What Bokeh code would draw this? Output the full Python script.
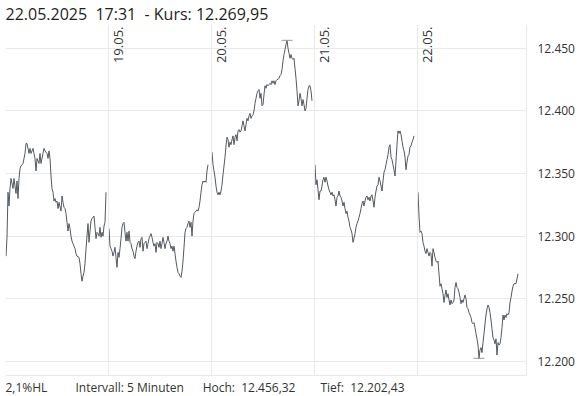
import numpy as np
from bokeh.plotting import figure
from bokeh.models import Span, Title, FixedTicker, Range1d
from bokeh.core.properties import value
from bokeh.embed import file_html
from bokeh.resources import INLINE

# ---------------- data ----------------
day_labels = ["16.05.", "19.05.", "20.05.", "21.05.", "22.05."]
bars_per_day = 103          # 5-minute bars per trading day slot
last_date = "22.05.2025"
last_time = "17:31"
interval_text = "Intervall: 5 Minuten"

y_ticks = [12200, 12250, 12300, 12350, 12400, 12450]
y_tick_labels = ["12.200", "12.250", "12.300", "12.350", "12.400", "12.450"]

# 16.05. (bar index within the day, value)
d0_bar = [0, 1, 2, 3, 4, 5, 7, 8, 10, 11, 12, 13, 14, 15, 17, 19, 20, 21, 23, 24, 25, 27, 28, 29,
          30, 31, 33, 34, 35, 37, 38, 39, 41, 42, 43, 44, 45, 46, 47, 48, 49, 50, 51, 52, 53, 55,
          56, 57, 58, 59, 60, 61, 62, 63, 64, 65, 66, 67, 69, 70, 71, 73, 74, 75, 76, 77, 78, 79,
          80, 81, 82, 83, 84, 85, 86, 88, 89, 90, 91, 92, 93, 94, 95, 96, 97, 98, 99, 100]
d0_val = [12284, 12299, 12335, 12324, 12338, 12346, 12338, 12346, 12334, 12344, 12330, 12346,
          12354, 12356, 12358, 12366, 12374, 12374, 12366, 12370, 12366, 12370, 12366, 12362,
          12352, 12362, 12358, 12366, 12358, 12366, 12370, 12368, 12366, 12362, 12368, 12362,
          12348, 12338, 12335, 12328, 12330, 12327, 12328, 12322, 12327, 12320, 12332, 12327,
          12323, 12322, 12318, 12311, 12304, 12310, 12306, 12300, 12296, 12294, 12290, 12286,
          12284, 12283, 12278, 12270, 12264, 12268, 12271, 12278, 12290, 12300, 12310, 12295,
          12304, 12312, 12314, 12316, 12307, 12298, 12303, 12302, 12300, 12307, 12299, 12303,
          12300, 12308, 12311, 12335]

# 19.05.
d1_val = [12306, 12292, 12290, 12288, 12284, 12287, 12291, 12283, 12275, 12287, 12283, 12290,
          12298, 12307, 12310, 12311, 12303, 12296, 12303, 12296, 12304, 12295, 12294, 12290,
          12288, 12284, 12282, 12288, 12292, 12295, 12296, 12291, 12298, 12299, 12288, 12294,
          12295, 12296, 12290, 12294, 12298, 12300, 12302, 12299, 12295, 12292, 12294, 12287,
          12295, 12294, 12291, 12296, 12290, 12294, 12299, 12295, 12290, 12294, 12296, 12300,
          12296, 12294, 12290, 12292, 12288, 12292, 12286, 12280, 12275, 12271, 12270, 12268,
          12267, 12272, 12280, 12291, 12303, 12306, 12307, 12310, 12312, 12307, 12311, 12300,
          12312, 12318, 12319, 12320, 12321, 12320, 12323, 12328, 12335, 12341, 12344, 12343,
          12344, 12343, 12352, 12357]

# 20.05.
d2_val = [12367, 12357, 12352, 12347, 12340, 12335, 12333, 12335, 12333, 12336, 12341, 12349,
          12356, 12363, 12372, 12379, 12377, 12371, 12375, 12373, 12377, 12380, 12373, 12379,
          12381, 12376, 12384, 12385, 12383, 12384, 12388, 12392, 12388, 12384, 12389, 12394,
          12392, 12396, 12398, 12394, 12396, 12397, 12400, 12406, 12410, 12414, 12416, 12417,
          12410, 12414, 12404, 12405, 12413, 12420, 12418, 12421, 12420, 12421, 12422, 12421,
          12424, 12422, 12424, 12421, 12424, 12425, 12425, 12426, 12428, 12429, 12433, 12440,
          12445, 12449, 12453, 12456.32, 12450, 12446, 12442, 12445, 12442, 12441, 12442, 12434,
          12426, 12416, 12404, 12408, 12414, 12410, 12404, 12409, 12405, 12400, 12402, 12410,
          12417, 12420, 12420, 12416, 12408]

# 21.05.
d3_val = [12357, 12341, 12345, 12337, 12329, 12336, 12336, 12340, 12345, 12347, 12343, 12347,
          12344, 12340, 12337, 12335, 12333, 12335, 12332, 12333, 12329, 12324, 12331, 12332,
          12336, 12332, 12331, 12328, 12324, 12327, 12322, 12318, 12320, 12315, 12312, 12307,
          12305, 12302, 12295, 12298, 12302, 12307, 12310, 12312, 12315, 12318, 12322, 12326,
          12328, 12324, 12328, 12331, 12332, 12329, 12331, 12328, 12332, 12333, 12328, 12323,
          12331, 12336, 12340, 12341, 12347, 12344, 12340, 12336, 12344, 12351, 12353, 12357,
          12361, 12365, 12371, 12373, 12363, 12361, 12357, 12353, 12348, 12360, 12373, 12384,
          12382, 12384, 12381, 12376, 12371, 12368, 12363, 12353, 12359, 12364, 12365, 12371,
          12372, 12375, 12377, 12380]

# 22.05.
d4_val = [12335, 12316, 12303, 12304, 12302, 12295, 12292, 12288, 12286, 12290, 12287, 12284,
          12287, 12286, 12276, 12290, 12287, 12283, 12280, 12279, 12280, 12270, 12260, 12262,
          12258, 12254, 12247, 12253, 12257, 12251, 12254, 12249, 12245, 12249, 12246, 12247,
          12249, 12259, 12263, 12259, 12258, 12255, 12251, 12246, 12249, 12247, 12250, 12253,
          12250, 12243, 12242, 12239, 12237, 12235, 12231, 12230, 12231, 12227, 12222, 12218,
          12213, 12202.43, 12209, 12211, 12207, 12215, 12222, 12230, 12237, 12242, 12245, 12243,
          12239, 12233, 12226, 12219, 12217, 12214, 12218, 12205, 12215, 12213, 12214, 12219,
          12227, 12237, 12233, 12237, 12235, 12238, 12237, 12239, 12247, 12251, 12256, 12260,
          12262, 12262, 12262, 12266, 12269.95]

days = [
    (d0_bar, d0_val),
    (list(range(len(d1_val))), d1_val),
    (list(range(len(d2_val))), d2_val),
    (list(range(len(d3_val))), d3_val),
    (list(range(len(d4_val))), d4_val),
]


def de_num(v):
    s = f"{v:,.2f}"
    return s.replace(",", "X").replace(".", ",").replace("X", ".")


# ---------------- figure ----------------
GRID = "#e9e9e9"
LINE = "#525960"
TXT = "#333333"
FONT = "Open Sans"
NB = "\u00a0"

y0, y1 = 12187.9, 12468.95
x0, x1 = -0.5, 521.5
p = figure(width=579, height=396, output_backend="svg", toolbar_location=None,
           x_range=Range1d(x0, x1), y_range=Range1d(y0, y1),
           x_axis_location=None, y_axis_location="right",
           min_border_left=5, min_border_right=52, min_border_top=23, min_border_bottom=20)
p.outline_line_color = None
p.background_fill_color = "white"
p.border_fill_color = "white"
p.xgrid.visible = False

ax = p.yaxis[0]
ax.ticker = FixedTicker(ticks=y_ticks)
ax.major_label_overrides = {int(t): l for t, l in zip(y_ticks, y_tick_labels)}
ax.axis_line_color = None
ax.major_tick_line_color = None
ax.minor_tick_line_color = None
ax.major_label_standoff = 4
ax.major_label_text_font = FONT
ax.major_label_text_font_size = "12px"
ax.major_label_text_color = TXT

p.ygrid.ticker = FixedTicker(ticks=y_ticks)
p.ygrid.grid_line_color = GRID
p.ygrid.grid_line_width = 1

# day separators, right and bottom border
for k in range(1, len(day_labels)):
    p.add_layout(Span(location=k * bars_per_day - 0.5, dimension="height",
                      line_color=GRID, line_width=1))
p.add_layout(Span(location=x1 - 1, dimension="height", line_color=GRID, line_width=1))
p.add_layout(Span(location=y0 + 0.8, dimension="width", line_color=GRID, line_width=1))

# price line, one segment per day
all_x, all_v = [], []
for k, (bars, vals) in enumerate(days):
    xs = [k * bars_per_day + b for b in bars]
    p.line(xs, vals, line_color=LINE, line_width=1)
    all_x += xs
    all_v += vals

# high / low markers
i_hi = int(np.argmax(all_v))
i_lo = int(np.argmin(all_v))
p.scatter([all_x[i_hi], all_x[i_lo]], [all_v[i_hi], all_v[i_lo]], marker="dash",
          size=11, line_color="#9a9a9a", line_width=1)

# rotated day labels
p.text(x=[k * bars_per_day - 0.5 for k in range(1, len(day_labels))],
       y=[y1] * (len(day_labels) - 1), text=day_labels[1:],
       angle=np.pi / 2, text_align="right", text_baseline="middle",
       x_offset=10, y_offset=2,
       text_font=value(FONT), text_font_size=value("13px"), text_color=TXT)

hi, lo, last = max(all_v), min(all_v), all_v[-1]

# header (above) and footer (below) as title panels
p.title.text = f"{last_date}{NB*2}{last_time}{NB*2}- Kurs: {de_num(last)}"
p.title.align = "left"
p.title.text_font = FONT
p.title.text_font_size = "16px"
p.title.text_font_style = "normal"
p.title.text_color = "#1e1e1e"
p.title.standoff = 0
p.title.offset = 0

hl = f"{(hi - lo) / lo * 100:.1f}".replace(".", ",") + "%HL"
footer = (f"{hl}{NB*9}{interval_text}{NB*6}Hoch:{NB} {de_num(hi)}"
          f"{NB*8}Tief:{NB} {de_num(lo)}")
p.add_layout(Title(text=footer, align="left", text_font=FONT, text_font_size="12px",
                   text_font_style="normal", text_color=TXT, standoff=0), "below")

open("out.html", "w").write(file_html(p, INLINE))
